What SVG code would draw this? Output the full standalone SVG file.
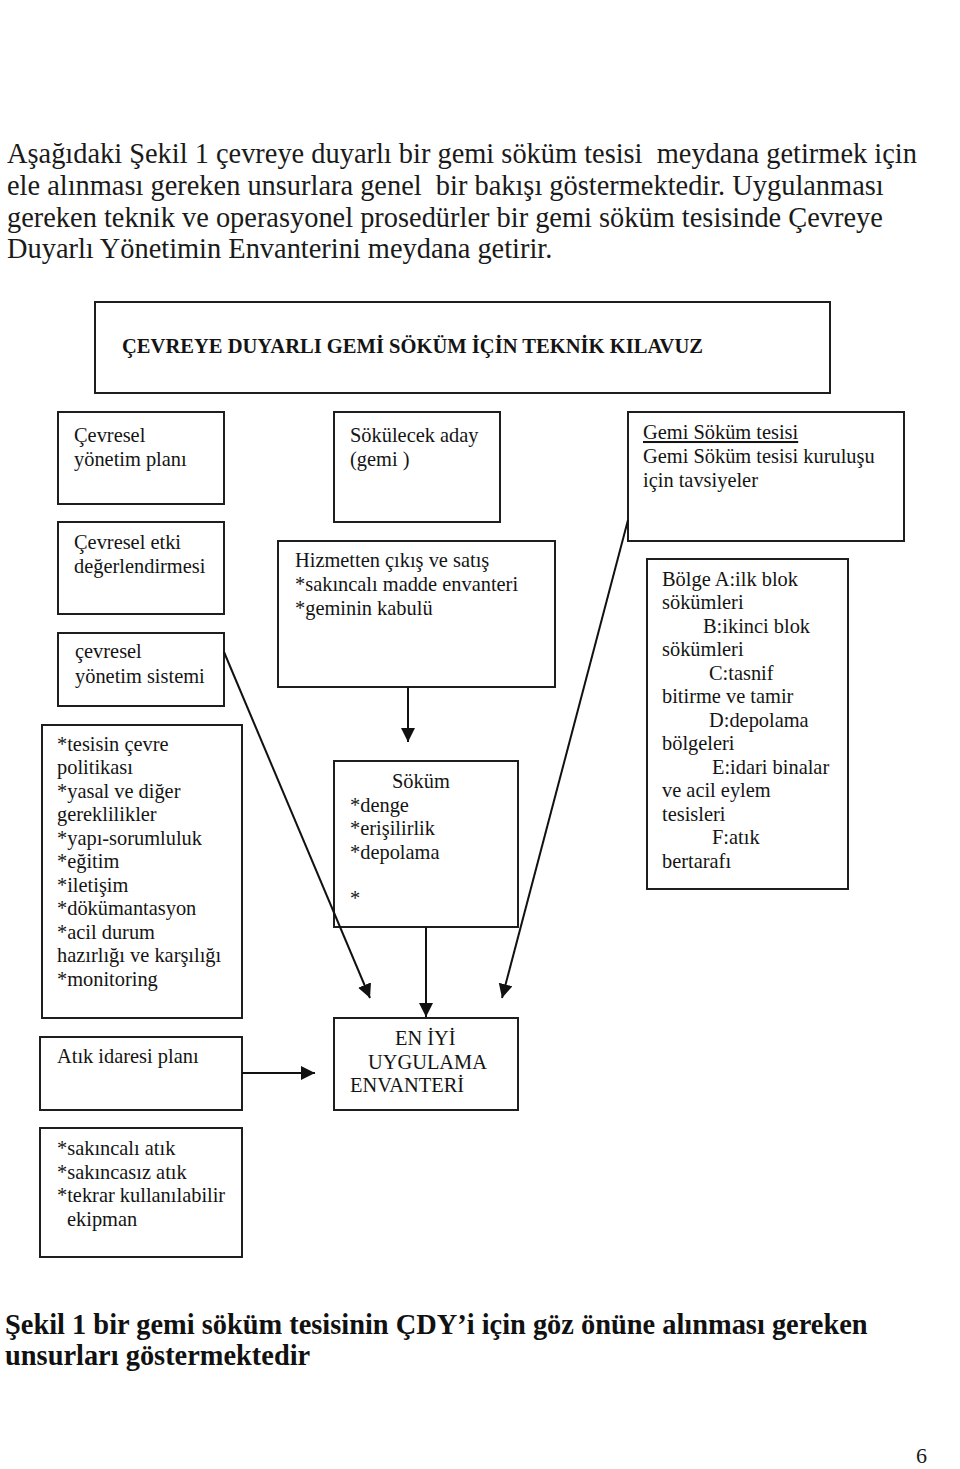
<svg xmlns="http://www.w3.org/2000/svg" width="960" height="1469" viewBox="0 0 960 1469">
<style>
  .bg { fill: #ffffff; }
  .box { fill: #ffffff; stroke: #1e1e1e; stroke-width: 2; }
  .t { font-family: "Liberation Serif", "Times New Roman", serif; font-size: 20.4px; fill: #141414; }
  .tb { font-family: "Liberation Serif", "Times New Roman", serif; font-size: 20.4px; font-weight: bold; fill: #141414; }
  .para { font-family: "Liberation Serif", "Times New Roman", serif; font-size: 28.4px; fill: #1a1a1a; white-space: pre; }
  .cap { font-family: "Liberation Serif", "Times New Roman", serif; font-size: 28.4px; font-weight: bold; fill: #111111; }
  .pg { font-family: "Liberation Serif", "Times New Roman", serif; font-size: 22px; fill: #1a1a1a; }
  .conn { stroke: #111111; stroke-width: 2; fill: none; }
</style>
<defs>
  <marker id="arrow" markerUnits="userSpaceOnUse" markerWidth="16" markerHeight="16" refX="14" refY="7" orient="auto">
    <path d="M0,0 L14,7 L0,14 Z" fill="#111111"/>
  </marker>
</defs>
<rect class="bg" x="0" y="0" width="960" height="1469"/>

<g id="paragraph">
  <text class="para" x="7" y="163" xml:space="preserve">Aşağıdaki Şekil 1 çevreye duyarlı bir gemi söküm tesisi  meydana getirmek için</text>
  <text class="para" x="7" y="195" xml:space="preserve">ele alınması gereken unsurlara genel  bir bakışı göstermektedir. Uygulanması</text>
  <text class="para" x="7" y="227">gereken teknik ve operasyonel prosedürler bir gemi söküm tesisinde Çevreye</text>
  <text class="para" x="7" y="258">Duyarlı Yönetimin Envanterini meydana getirir.</text>
</g>

<g id="title">
  <rect class="box" x="95" y="302" width="735" height="91"/>
  <text class="tb" x="122" y="353" textLength="581" lengthAdjust="spacingAndGlyphs">ÇEVREYE DUYARLI GEMİ SÖKÜM İÇİN TEKNİK KILAVUZ</text>
</g>

<g id="cevresel-yonetim-plani">
  <rect class="box" x="58" y="412" width="166" height="92"/>
  <text class="t" x="74" y="442">Çevresel</text>
  <text class="t" x="74" y="466">yönetim planı</text>
</g>

<g id="sokulecek-aday">
  <rect class="box" x="334" y="412" width="166" height="110"/>
  <text class="t" x="350" y="442">Sökülecek aday</text>
  <text class="t" x="350" y="466">(gemi )</text>
</g>

<g id="gemi-sokum-tesisi">
  <rect class="box" x="628" y="412" width="276" height="129"/>
  <text class="t" x="643" y="439" text-decoration="underline">Gemi Söküm tesisi</text>
  <text class="t" x="643" y="463">Gemi Söküm tesisi kuruluşu</text>
  <text class="t" x="643" y="487">için tavsiyeler</text>
</g>

<g id="cevresel-etki">
  <rect class="box" x="58" y="522" width="166" height="92"/>
  <text class="t" x="74" y="549">Çevresel etki</text>
  <text class="t" x="74" y="573">değerlendirmesi</text>
</g>

<g id="hizmetten-cikis">
  <rect class="box" x="278" y="541" width="277" height="146"/>
  <text class="t" x="295" y="567">Hizmetten çıkış ve satış</text>
  <text class="t" x="295" y="591">*sakıncalı madde envanteri</text>
  <text class="t" x="295" y="615">*geminin kabulü</text>
</g>

<g id="bolge">
  <rect class="box" x="647" y="559" width="201" height="330"/>
  <text class="t" x="662" y="586">Bölge A:ilk blok</text>
  <text class="t" x="662" y="609">sökümleri</text>
  <text class="t" x="703" y="633">B:ikinci blok</text>
  <text class="t" x="662" y="656">sökümleri</text>
  <text class="t" x="709" y="680">C:tasnif</text>
  <text class="t" x="662" y="703">bitirme ve tamir</text>
  <text class="t" x="709" y="727">D:depolama</text>
  <text class="t" x="662" y="750">bölgeleri</text>
  <text class="t" x="712" y="774">E:idari binalar</text>
  <text class="t" x="662" y="797">ve acil eylem</text>
  <text class="t" x="662" y="821">tesisleri</text>
  <text class="t" x="712" y="844">F:atık</text>
  <text class="t" x="662" y="868">bertarafı</text>
</g>

<g id="cevresel-yonetim-sistemi">
  <rect class="box" x="58" y="633" width="166" height="73"/>
  <text class="t" x="75" y="658">çevresel</text>
  <text class="t" x="75" y="683">yönetim sistemi</text>
</g>

<g id="tesis-politikasi">
  <rect class="box" x="42" y="725" width="200" height="293"/>
  <text class="t" x="57" y="751">*tesisin çevre</text>
  <text class="t" x="57" y="774">politikası</text>
  <text class="t" x="57" y="798">*yasal ve diğer</text>
  <text class="t" x="57" y="821">gereklilikler</text>
  <text class="t" x="57" y="845">*yapı-sorumluluk</text>
  <text class="t" x="57" y="868">*eğitim</text>
  <text class="t" x="57" y="892">*iletişim</text>
  <text class="t" x="57" y="915">*dökümantasyon</text>
  <text class="t" x="57" y="939">*acil durum</text>
  <text class="t" x="57" y="962">hazırlığı ve karşılığı</text>
  <text class="t" x="57" y="986">*monitoring</text>
</g>

<g id="sokum">
  <rect class="box" x="334" y="761" width="184" height="166"/>
  <text class="t" x="392" y="788">Söküm</text>
  <text class="t" x="350" y="812">*denge</text>
  <text class="t" x="350" y="835">*erişilirlik</text>
  <text class="t" x="350" y="859">*depolama</text>
  <text class="t" x="350" y="905">*</text>
</g>

<g id="atik-idaresi-plani">
  <rect class="box" x="40" y="1037" width="202" height="73"/>
  <text class="t" x="57" y="1063">Atık idaresi planı</text>
</g>

<g id="en-iyi-uygulama">
  <rect class="box" x="334" y="1018" width="184" height="92"/>
  <text class="t" x="395" y="1045">EN İYİ</text>
  <text class="t" x="368" y="1069">UYGULAMA</text>
  <text class="t" x="350" y="1092">ENVANTERİ</text>
</g>

<g id="atik-turleri">
  <rect class="box" x="40" y="1128" width="202" height="129"/>
  <text class="t" x="57" y="1155">*sakıncalı atık</text>
  <text class="t" x="57" y="1179">*sakıncasız atık</text>
  <text class="t" x="57" y="1202">*tekrar kullanılabilir</text>
  <text class="t" x="67" y="1226">ekipman</text>
</g>

<g id="connectors">
  <line class="conn" x1="408" y1="687" x2="408" y2="742" marker-end="url(#arrow)"/>
  <line class="conn" x1="426" y1="927" x2="426" y2="1017" marker-end="url(#arrow)"/>
  <line class="conn" x1="224" y1="652" x2="370" y2="998" marker-end="url(#arrow)"/>
  <line class="conn" x1="628" y1="520" x2="502" y2="998" marker-end="url(#arrow)"/>
  <line class="conn" x1="242" y1="1073" x2="315" y2="1073" marker-end="url(#arrow)"/>
</g>

<g id="caption">
  <text class="cap" x="5" y="1334">Şekil 1 bir gemi söküm tesisinin ÇDY’i için göz önüne alınması gereken</text>
  <text class="cap" x="5" y="1365">unsurları göstermektedir</text>
</g>

<text class="pg" x="916" y="1463">6</text>
</svg>
